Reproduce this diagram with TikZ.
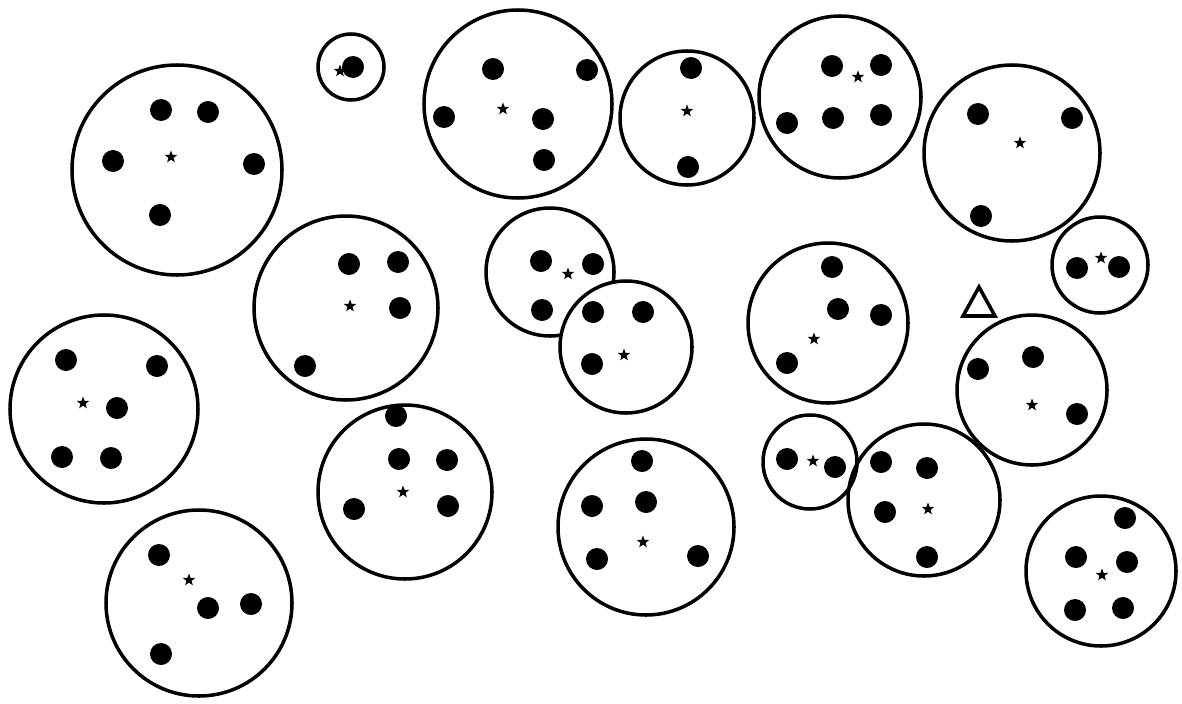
\documentclass[tikz,border=0pt]{standalone}
\usepackage{tikz}
\usetikzlibrary{shapes.geometric}

\begin{document}
\begin{tikzpicture}[x=0.01cm,y=-0.01cm,
  ring/.style={draw,fill=white,line width=1pt},
  centre/.style={star,star points=5,star point ratio=2.4,fill,inner sep=0pt,minimum size=0.13cm}]
\useasboundingbox (0,0) rectangle (1182,703);

% top row
\draw[ring] (177,170) circle (105);
\foreach \p in {(161,110),(208,112),(113,161),(254,164),(160,215)} \fill \p circle (11);
\node[centre] (s1) at (171,157) {};

\draw[ring] (351,67) circle (33);
\fill (353,67) circle (11);
\node[centre] (s2) at (340,71) {};

\draw[ring] (518,104) circle (94);
\foreach \p in {(493,69),(587,70),(444,117),(543,119),(544,160)} \fill \p circle (11);
\node[centre] (s3) at (503,109) {};

\draw[ring] (687,118) circle (67);
\foreach \p in {(691,68),(688,167)} \fill \p circle (11);
\node[centre] (s4) at (687,111) {};

\draw[ring] (840,97) circle (81);
\foreach \p in {(832,66),(881,65),(787,123),(833,118),(881,115)} \fill \p circle (11);
\node[centre] (s5) at (858,77) {};

\draw[ring] (1012,153) circle (88);
\foreach \p in {(978,114),(1072,118),(981,216)} \fill \p circle (11);
\node[centre] (s6) at (1020,143) {};

\draw[ring] (1100,265) circle (48);
\foreach \p in {(1077,268),(1119,267)} \fill \p circle (11);
\node[centre] (s7) at (1101,258) {};

% middle row
\draw[ring] (346,308) circle (92);
\foreach \p in {(349,264),(398,262),(400,308),(305,366)} \fill \p circle (11);
\node[centre] (s8) at (350,306) {};

\draw[ring] (104,409) circle (94);
\foreach \p in {(66,360),(157,366),(117,408),(62,457),(111,458)} \fill \p circle (11);
\node[centre] (s9) at (83,403) {};

\draw[ring] (550,272) circle (64);
\foreach \p in {(541,261),(593,264),(542,310)} \fill \p circle (11);
\node[centre] (s12) at (568,274) {};

\draw[ring] (626,347) circle (66);
\foreach \p in {(593,312),(643,312),(592,364)} \fill \p circle (11);
\node[centre] (s13) at (624,355) {};

\draw[ring] (828,323) circle (80);
\foreach \p in {(832,267),(838,309),(881,315),(787,363)} \fill \p circle (11);
\node[centre] (s15) at (814,339) {};

\draw[line width=1pt] (979,287) -- (963,316) -- (995,316) -- cycle;

\draw[ring] (1032,390) circle (75);
\foreach \p in {(978,369),(1033,357),(1077,414)} \fill \p circle (11);
\node[centre] (s18) at (1032,405) {};

% bottom row
\draw[ring] (199,603) circle (93);
\foreach \p in {(159,555),(208,608),(251,604),(161,654)} \fill \p circle (11);
\node[centre] (s10) at (189,580) {};

\draw[ring] (405,492) circle (87);
\foreach \p in {(396,416),(399,459),(447,460),(354,509),(448,506)} \fill \p circle (11);
\node[centre] (s11) at (403,492) {};

\draw[ring] (646,527) circle (88);
\foreach \p in {(642,461),(592,506),(646,502),(597,559),(698,556)} \fill \p circle (11);
\node[centre] (s14) at (643,542) {};

\draw[line width=1pt] (924,500) circle (76);
\foreach \p in {(881,462),(927,468),(885,512),(927,557)} \fill \p circle (11);
\node[centre] (s17) at (928,509) {};

\draw[line width=1pt] (810,462) circle (47);
\foreach \p in {(787,459),(835,467)} \fill \p circle (11);
\node[centre] (s16) at (813,461) {};

\draw[ring] (1101,571) circle (75);
\foreach \p in {(1125,518),(1076,557),(1127,562),(1075,610),(1123,608)} \fill \p circle (11);
\node[centre] (s19) at (1102,575) {};
\end{tikzpicture}
\end{document}
